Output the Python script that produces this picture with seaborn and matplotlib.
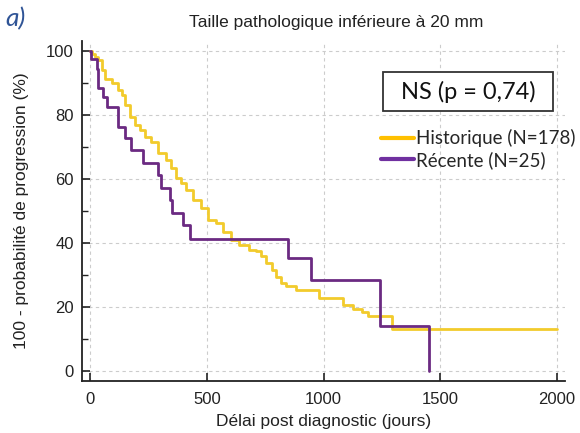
import numpy as np
import pandas as pd
import seaborn as sns
import matplotlib.pyplot as plt
from matplotlib.lines import Line2D
from matplotlib.patches import Rectangle
from matplotlib.ticker import MultipleLocator

# Kaplan-Meier curves (jours, 100 - probabilite de progression)
hist_days = [0, 7, 20, 35, 50, 64, 92, 121, 135, 149, 170, 191, 213, 234, 262, 291,
             326, 348, 369, 390, 411, 440, 475, 503, 539, 567, 603, 638, 681, 709,
             731, 752, 780, 794, 816, 837, 880, 979, 1085, 1125, 1165, 1190, 1291, 2000]
hist_vals = [100, 99, 98, 97, 94, 91.3, 89.8, 87.7, 86.2, 83, 79.4, 76.8, 75.3, 73.2,
             71.6, 68, 65.9, 63.4, 60.2, 58.7, 56.6, 53.5, 50.9, 47.3, 46.3, 43.6, 41,
             39.5, 37.9, 37.4, 35.9, 33.8, 31.7, 29.6, 27.6, 26.5, 25.5, 23, 20.8, 19.6,
             18.5, 17.2, 13.2, 13.2]

rec_days = [0, 5, 28, 35, 57, 71, 121, 149, 177, 227, 291, 305, 340, 351, 397, 426,
            847, 946, 1241, 1450]
rec_vals = [100, 97.5, 94.4, 88.5, 85.6, 82.5, 76.3, 72.7, 69, 64.9, 61.3, 57.3, 53.5,
            49.4, 45.7, 41.3, 35.4, 28.4, 14.1, 0]

groups = ['Historique (N=178)', 'Récente (N=25)']
line_colors = ['#F2CB2C', '#6B2A82']
legend_colors = ['#FFC000', '#7030A0']

df = pd.concat([
    pd.DataFrame({'jours': hist_days, 'surv': hist_vals, 'cohorte': groups[0]}),
    pd.DataFrame({'jours': rec_days, 'surv': rec_vals, 'cohorte': groups[1]}),
])

sns.set_style('white')
plt.rcParams['font.family'] = ['Liberation Sans', 'DejaVu Sans']

fig = plt.figure(figsize=(5.8, 4.33), dpi=100)
ax = fig.add_axes([0.1414, 0.120, 0.833, 0.785])

sns.lineplot(data=df, x='jours', y='surv', hue='cohorte', palette=dict(zip(groups, line_colors)),
             drawstyle='steps-post', estimator=None, sort=False, linewidth=2.0,
             legend=False, ax=ax)

ax.set_xlim(-35, 2035)
ax.set_ylim(-3, 103)
ax.set_xticks([0, 500, 1000, 1500, 2000])
ax.set_yticks([0, 20, 40, 60, 80, 100])
ax.yaxis.set_minor_locator(MultipleLocator(10))
ax.grid(True, which='major', color='#cccccc', linestyle=(0, (3, 3)), linewidth=0.8)
ax.set_axisbelow(True)

for s in ['top', 'right']:
    ax.spines[s].set_visible(False)
for s in ['left', 'bottom']:
    ax.spines[s].set_color('#222222')
    ax.spines[s].set_linewidth(1.3)

ax.tick_params(which='major', direction='in', length=6, width=1.2, labelsize=12,
               colors='#222222', pad=6, left=True, bottom=True)
ax.tick_params(axis='x', which='major', pad=8)
ax.tick_params(which='minor', direction='in', length=4, width=1.0, left=True, colors='#222222')

ax.set_xlabel('Délai post diagnostic (jours)', fontsize=12.5, color='#222222', labelpad=5)
ax.set_ylabel('100 - probabilité de progression (%)', fontsize=12.5, color='#222222', labelpad=12)

fig.text(336 / 580, 1 - 22 / 433, 'Taille pathologique inférieure à 20 mm',
         ha='center', va='center', fontsize=12.5, color='#222222')
fig.text(5 / 580, 1 - 19 / 433, 'a)', ha='left', va='center', fontsize=19,
         style='italic', color='#2F5496', family=['Lato', 'DejaVu Sans'])

# p-value box
fig.patches.append(Rectangle((383 / 580, 1 - 111 / 433), 170 / 580, 39 / 433,
                             transform=fig.transFigure, facecolor='white',
                             edgecolor='#333333', linewidth=1.3, zorder=5))
fig.text(468 / 580, 1 - 92 / 433, 'NS (p = 0,74)', ha='center', va='center', fontsize=17,
         color='#111111', family=['Lato', 'DejaVu Sans'], zorder=6)

handles = [Line2D([], [], color=c, linewidth=3) for c in legend_colors]
leg = ax.legend(handles, groups, loc='upper left', bbox_to_anchor=(381 / 580, 1 - 129 / 433),
                bbox_transform=fig.transFigure, frameon=False, handlelength=1.75,
                handletextpad=0.1, labelspacing=0.2, borderpad=0, borderaxespad=0,
                prop={'family': ['Lato', 'DejaVu Sans'], 'size': 13.5})

fig.savefig('out.png', dpi=100)
